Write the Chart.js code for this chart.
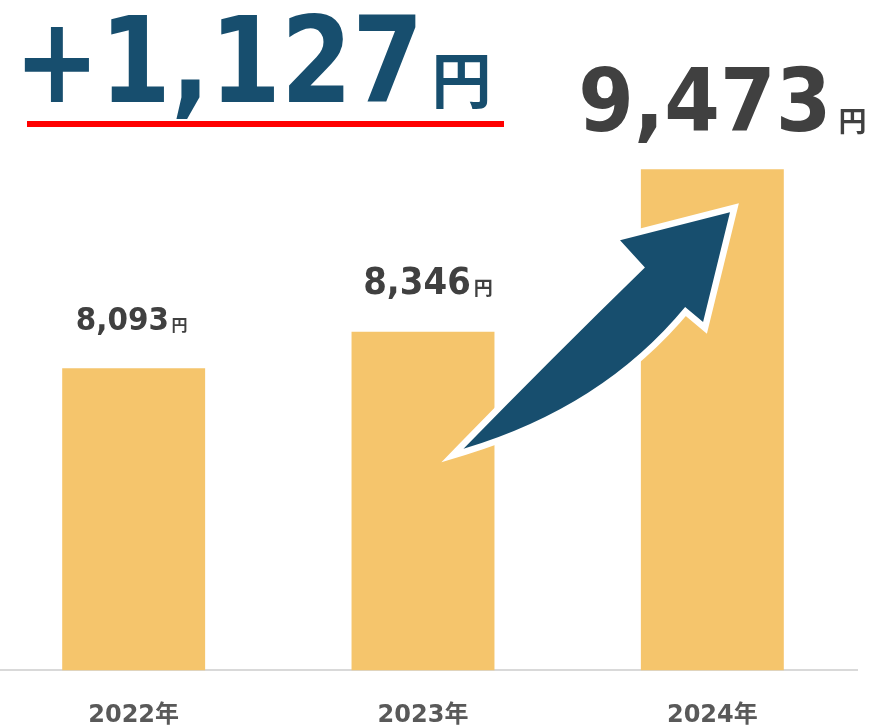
<!DOCTYPE html>
<html>
<head>
<meta charset="utf-8">
<script src="https://cdn.jsdelivr.net/npm/chart.js@4/dist/chart.umd.min.js"></script>
<style>
html, body { margin: 0; padding: 0; background: #fff; overflow: hidden; width: 876px; height: 727px; }
#wrap { position: absolute; left: -11px; top: 0; width: 887px; height: 761px; }
</style>
</head>
<body>
<div id="wrap"><canvas id="myChart"></canvas></div>
<script>
// Data
var years = ["2022年", "2023年", "2024年"];
var prices = [8093, 8346, 9473];

// Label styles (per bar)
var labelSizes = [32, 37, 87];
var yenSizes = [16, 19, 28];
var labelShift = [-2, 5, 10];

var BLUE = "#174e6e";
var GRAY = "#404040";
var OFFSET = 11; // canvas is shifted left by this much
var SQUEEZE = 0.92;

function drawNum(ctx, text, x, y, size, scaleX, color) {
    ctx.save();
    ctx.translate(x, y);
    ctx.scale(scaleX, 1);
    ctx.font = "bold " + size + "px 'DejaVu Sans'";
    ctx.fillStyle = color;
    ctx.textAlign = "left";
    ctx.textBaseline = "alphabetic";
    ctx.fillText(text, 0, 0);
    ctx.restore();
}

function numWidth(ctx, text, size, scaleX) {
    ctx.save();
    ctx.font = "bold " + size + "px 'DejaVu Sans'";
    var w = ctx.measureText(text).width * scaleX;
    ctx.restore();
    return w;
}

function drawYen(ctx, x, y, size, color) {
    ctx.save();
    ctx.font = "bold " + size + "px 'Noto Sans CJK JP'";
    ctx.fillStyle = color;
    ctx.textAlign = "left";
    ctx.textBaseline = "alphabetic";
    ctx.fillText("円", x, y);
    var w = ctx.measureText("円").width;
    ctx.restore();
    return w;
}

var decor = {
    id: "decor",
    afterDatasetsDraw: function (chart) {
        var ctx = chart.ctx;
        var bars = chart.getDatasetMeta(0).data;
        var bottom = chart.chartArea.bottom;
        var b2 = bars[1], b3 = bars[2];
        var dx = b3.x - b2.x;
        var dy = bottom - b3.y;
        function P(fx, fy) { return [b2.x + fx * dx, b3.y + fy * dy]; }

        // growth arrow from 2023 to 2024
        var tail = P(0.14, 0.558);
        var upC = P(0.44, 0.38);
        var join = P(0.767, 0.196);
        var barbL = P(0.681, 0.142);
        var tip = P(1.061, 0.086);
        var barbR = P(0.968, 0.305);
        var notch = P(0.906, 0.275);
        var lowC = P(0.62, 0.475);

        ctx.save();
        ctx.beginPath();
        ctx.moveTo(tail[0], tail[1]);
        ctx.quadraticCurveTo(upC[0], upC[1], join[0], join[1]);
        ctx.lineTo(barbL[0], barbL[1]);
        ctx.lineTo(tip[0], tip[1]);
        ctx.lineTo(barbR[0], barbR[1]);
        ctx.lineTo(notch[0], notch[1]);
        ctx.quadraticCurveTo(lowC[0], lowC[1], tail[0], tail[1]);
        ctx.closePath();
        ctx.lineJoin = "miter";
        ctx.miterLimit = 10;
        ctx.lineWidth = 13;
        ctx.strokeStyle = "#ffffff";
        ctx.stroke();
        ctx.fillStyle = BLUE;
        ctx.fill();
        ctx.restore();

        // value labels
        bars.forEach(function (bar, i) {
            var txt = prices[i].toLocaleString("en-US");
            var size = labelSizes[i];
            var ys = yenSizes[i];
            var nw = numWidth(ctx, txt, size, SQUEEZE);
            ctx.save();
            ctx.font = "bold " + ys + "px 'Noto Sans CJK JP'";
            var yw = ctx.measureText("円").width;
            ctx.restore();
            var gap = size * 0.08;
            var total = nw + gap + yw;
            var x0 = bar.x - total / 2 + labelShift[i];
            var base = bar.y - 38;
            drawNum(ctx, txt, x0, base, size, SQUEEZE, GRAY);
            drawYen(ctx, x0 + nw + gap, base + 1, ys, GRAY);
        });
    },
    afterDraw: function (chart) {
        var ctx = chart.ctx;
        ctx.save();
        ctx.translate(OFFSET, 0);
        // headline: increase from previous year
        var diff = prices[2] - prices[1];
        var txt = "+" + diff.toLocaleString("en-US");
        drawNum(ctx, txt, 14, 102, 119, 0.86, BLUE);
        var nw = numWidth(ctx, txt, 119, 0.86);
        drawYen(ctx, 14 + nw + 8, 103, 60, BLUE);
        // red underline
        ctx.fillStyle = "#ff0000";
        ctx.fillRect(27, 121, 477, 6);
        ctx.restore();
    }
};

var ctx = document.getElementById("myChart");

var myChart = new Chart(ctx, {
    type: "bar",
    data: {
        labels: years,
        datasets: [
            {
                data: prices,
                backgroundColor: "#f5c56c",
                barPercentage: 0.494,
                categoryPercentage: 1.0
            }
        ]
    },
    options: {
        responsive: true,
        maintainAspectRatio: false,
        animation: false,
        layout: { padding: { top: 0, left: 0, right: 19, bottom: 0 } },
        plugins: {
            legend: { display: false },
            tooltip: { enabled: false }
        },
        scales: {
            x: {
                grid: { display: false, drawTicks: false },
                border: { display: true, color: "#d9d9d9", width: 2 },
                ticks: {
                    color: "#595959",
                    padding: 31,
                    font: { family: "'DejaVu Sans', 'Noto Sans CJK JP'", size: 24, weight: "bold" }
                }
            },
            y: {
                display: false,
                min: 6000,
                max: 10646
            }
        }
    },
    plugins: [decor]
});
</script>
</body>
</html>
